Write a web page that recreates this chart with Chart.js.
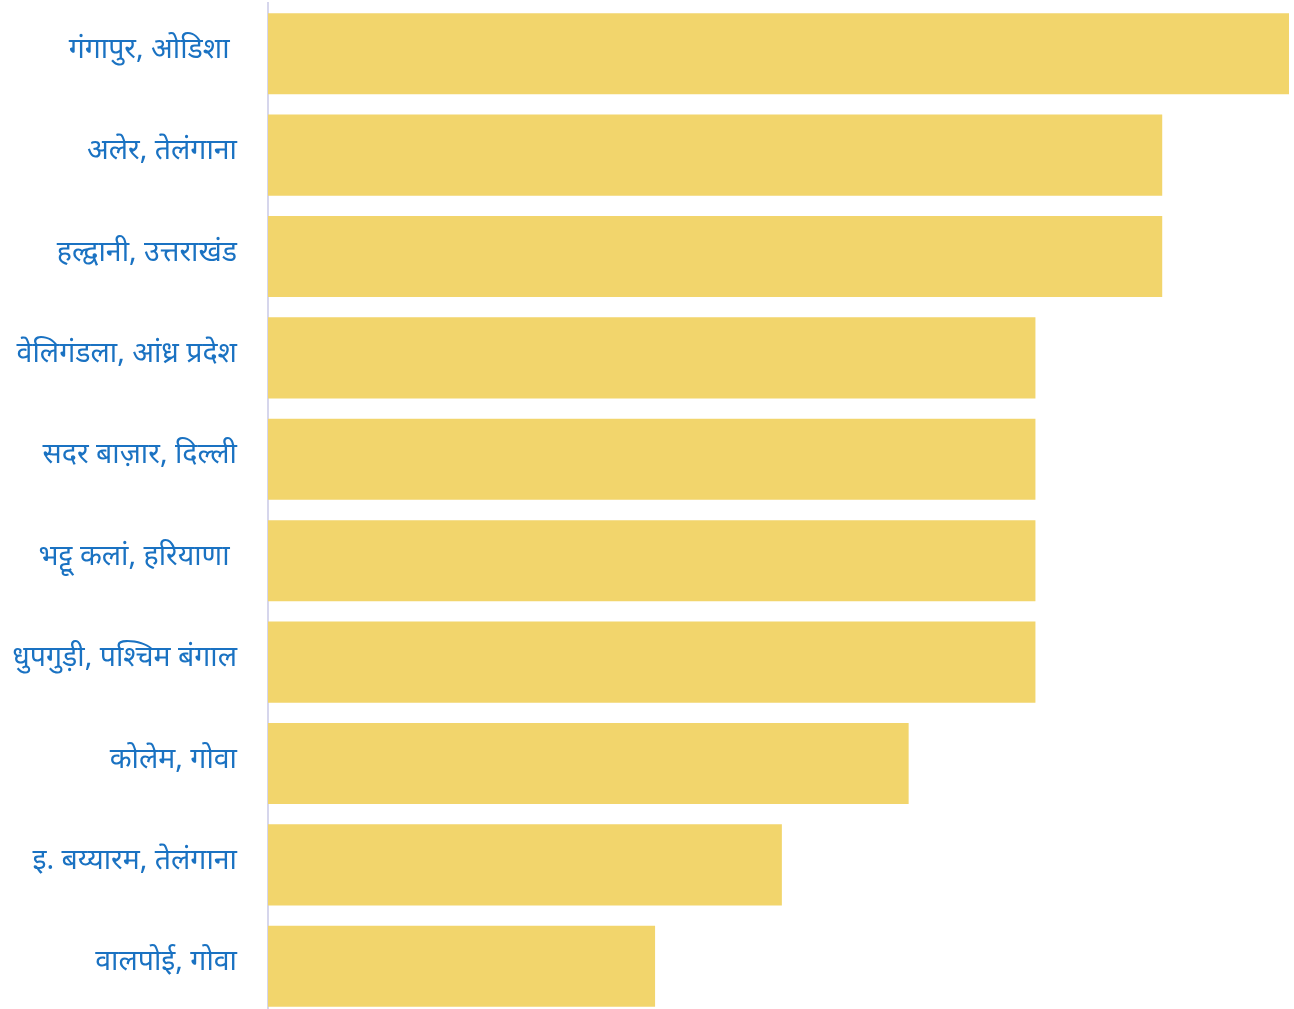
<!DOCTYPE html>
<html>
<head>
<meta charset="utf-8">
<script src="https://cdn.jsdelivr.net/npm/chart.js@4"></script>
<style>
  html, body { margin: 0; padding: 0; background: #ffffff; overflow: hidden; }
  #wrap { width: 1294px; height: 1020px; }
</style>
</head>
<body>
<div id="wrap"><canvas id="c" width="1294" height="1020"></canvas></div>
<script>
const places = [
  'गंगापुर, ओडिशा ',
  'अलेर, तेलंगाना',
  'हल्द्वानी, उत्तराखंड',
  'वेलिगंडला, आंध्र प्रदेश',
  'सदर बाज़ार, दिल्ली',
  'भट्टू कलां, हरियाणा ',
  'धुपगुड़ी, पश्चिम बंगाल',
  'कोलेम, गोवा',
  'इ. बय्यारम, तेलंगाना',
  'वालपोई, गोवा'
];
const counts = [8, 7, 7, 6, 6, 6, 6, 5, 4, 3];
// value axis begins a little below zero; bars grow from the axis line
const axisMin = -0.053;
const axisMax = 8;

new Chart(document.getElementById('c'), {
  type: 'bar',
  data: {
    labels: places,
    datasets: [{
      data: counts,
      base: axisMin,
      backgroundColor: '#f2d56c',
      borderWidth: 0,
      barPercentage: 0.8,
      categoryPercentage: 1.0
    }]
  },
  options: {
    indexAxis: 'y',
    responsive: false,
    animation: false,
    layout: { padding: { top: 3, right: 5, bottom: 3, left: 0 } },
    plugins: { legend: { display: false }, tooltip: { enabled: false } },
    scales: {
      x: {
        display: false,
        min: axisMin,
        max: axisMax
      },
      y: {
        grid: { display: false, drawTicks: false },
        border: { display: true, color: '#d6d6ec', width: 2 },
        ticks: {
          color: '#1a72c2',
          padding: 31,
          labelOffset: -4,
          font: { family: '"Noto Sans", sans-serif', size: 28.5 }
        },
        afterFit: (scale) => {
          scale.width = 268;
          scale.paddingTop = 0;
          scale.paddingBottom = 0;
        }
      }
    }
  }
});
</script>
</body>
</html>
